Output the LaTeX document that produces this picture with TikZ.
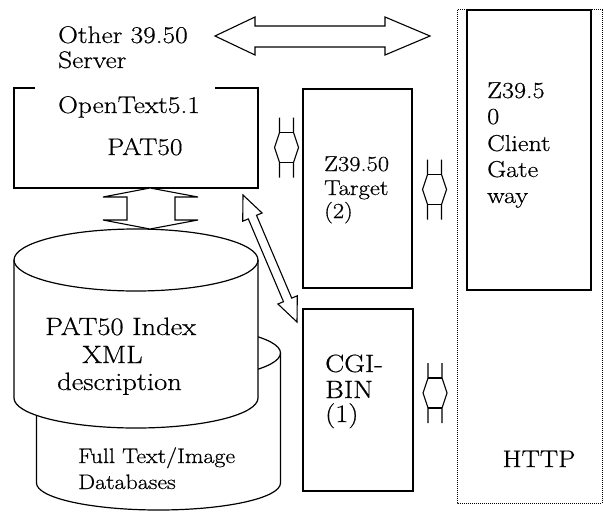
\documentclass[tikz,border=0pt]{standalone}
\usepackage{fontspec}
\setmainfont{Latin Modern Roman}[FakeStretch=1.14, FakeBold=0.6]

\tikzset{
  box/.style={draw, line width=1.2pt},
  block/.style={draw, line width=1.1pt, fill=white, line join=miter},
  lbl/.style={anchor=base west, inner sep=0pt},
  link/.pic={
    \draw[line width=1.1pt] (-7,-30) -- (-7,-15) -- (-12,0) -- (-7,15) -- (-7,30);
    \draw[line width=1.1pt] (7,-30) -- (7,-15) -- (12,0) -- (7,15) -- (7,30);
    \draw[line width=1.1pt] (-7,-15) -- (7,-15) (-7,15) -- (7,15);
  }
}

\begin{document}
\begin{tikzpicture}[x=1pt, y=-1pt]
\useasboundingbox (0,0) rectangle (604,511);

% http side
\draw[densely dotted, line width=1pt] (457,10) rectangle (602,503);
\node[box, minimum width=124pt, minimum height=280pt, inner sep=0pt] (gateway) at (529,150) {};
\node[box, minimum width=109pt, minimum height=199pt, inner sep=0pt] (target) at (357.5,188.5) {};
\node[box, minimum width=110pt, minimum height=182pt, inner sep=0pt] (cgibin) at (358,400) {};

% server box, open at the top
\draw[box] (35,88) -- (14,88) -- (14,188) -- (258,188) -- (258,88) -- (215,88);

% databases
\draw[box, fill=white] (36.5,353) -- (36.5,483) arc[start angle=180, end angle=0, x radius=122, y radius=27]
  -- (280.5,353) arc[start angle=0, end angle=-180, x radius=122, y radius=28] -- cycle;
\draw[box] (36.5,353) arc[start angle=180, end angle=0, x radius=122, y radius=28];
\draw[box, fill=white] (14,260) -- (14,398) arc[start angle=180, end angle=0, x radius=122, y radius=30]
  -- (258,260) arc[start angle=0, end angle=-180, x radius=122, y radius=31] -- cycle;
\draw[box] (14,260) arc[start angle=180, end angle=0, x radius=122, y radius=31];

% arrows
\draw[block] (215,36) -- (255,17) -- (255,26) -- (385,26) -- (385,17) -- (430,36)
  -- (385,55) -- (385,47) -- (255,47) -- (255,55) -- cycle;
\draw[block] (150,188) -- (198,197) -- (175,197) -- (175,220) -- (198,220) -- (150,229)
  -- (103,220) -- (127,220) -- (127,197) -- (103,197) -- cycle;
\draw[block] (243,195) -- (262.1,213) -- (256.5,215.3) -- (291.7,298.1) -- (297.3,295.8) -- (297,322)
  -- (277.9,304) -- (283.5,301.7) -- (248.3,218.9) -- (242.7,221.2) -- cycle;

\pic at (286.5,147.5) {link};
\pic at (434.5,189.5) {link};
\pic at (435,393) {link};

% labels
\node[lbl, font=\fontsize{24}{26}\selectfont] (other1) at (58,43) {Other 39.50};
\node[lbl, font=\fontsize{24}{26}\selectfont] (other2) at (58,68) {Server};
\node[lbl, font=\fontsize{24}{26}\selectfont] (ot1) at (58,113) {OpenText5.1};
\node[lbl, font=\fontsize{24}{26}\selectfont] (ot2) at (107,155) {PAT50};
\node[lbl, font=\fontsize{21.5}{24}\selectfont] (tg1) at (324,171) {Z39.50};
\node[lbl, font=\fontsize{21.5}{24}\selectfont] (tg2) at (324,195) {Target};
\node[lbl, font=\fontsize{21.5}{24}\selectfont] (tg3) at (324,218) {(2)};
\node[lbl, font=\fontsize{25}{26}\selectfont] (cgi1) at (325,372) {CGI-};
\node[lbl, font=\fontsize{25}{26}\selectfont] (cgi2) at (325,398) {BIN};
\node[lbl, font=\fontsize{25}{26}\selectfont] (cgi3) at (325,422) {(1)};
\node[lbl, font=\fontsize{23}{26}\selectfont] (gw1) at (487,98) {Z39.5};
\node[lbl, font=\fontsize{23}{26}\selectfont] (gw2) at (487,124) {0};
\node[lbl, font=\fontsize{23}{26}\selectfont] (gw3) at (487,151) {Client};
\node[lbl, font=\fontsize{23}{26}\selectfont] (gw4) at (487,177) {Gate};
\node[lbl, font=\fontsize{23}{26}\selectfont] (gw5) at (487,203) {way};
\node[anchor=base, inner sep=0pt, font=\fontsize{24}{26}\selectfont] (http) at (539,467) {HTTP};
\node[lbl, font=\fontsize{25}{28}\selectfont] (idx1) at (45,335) {PAT50 Index};
\node[lbl, font=\fontsize{25}{28}\selectfont] (idx2) at (82,363) {XML};
\node[lbl, font=\fontsize{25}{28}\selectfont] (idx3) at (57,390) {description};
\node[lbl, font=\fontsize{21}{26}\selectfont] (db1) at (78,463) {Full Text/Image};
\node[lbl, font=\fontsize{21}{26}\selectfont] (db2) at (78,489) {Databases};
\end{tikzpicture}
\end{document}
